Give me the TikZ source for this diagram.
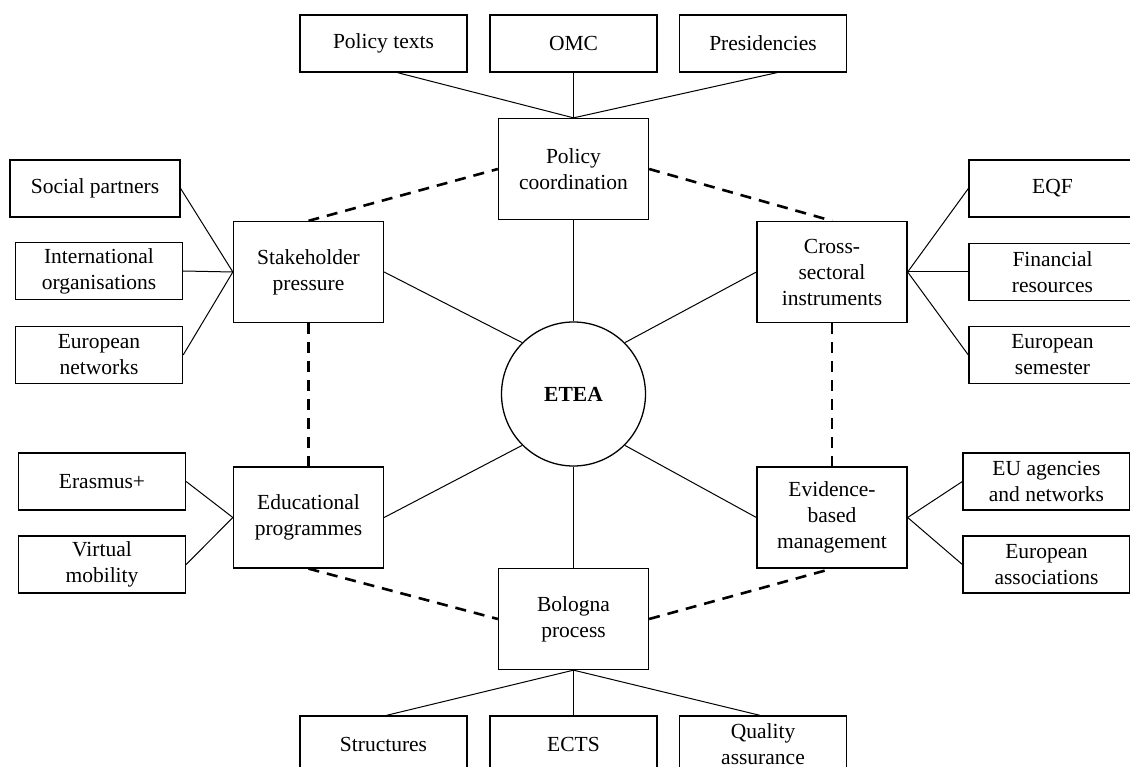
\documentclass[tikz,border=0pt]{standalone}
\usepackage{fontspec}
\setmainfont{Liberation Serif}
\usetikzlibrary{calc}
\begin{document}
\begin{tikzpicture}[x=1pt,y=-1pt,
  box/.style={draw, line width=1.3pt, inner sep=0pt, align=center,
    font=\fontsize{21.5}{26}\selectfont},
  leaf/.style={box, minimum width=167pt, minimum height=57pt},
  hub/.style={box, minimum width=150pt, minimum height=101pt},
  link/.style={line width=1pt},
  dashlink/.style={line width=2.6pt, dash pattern=on 11pt off 8pt}]
\fill[white] (0,0) rectangle (1130,767);
\clip (0,0) rectangle (1130,767);

% centre
\node[draw, line width=1.3pt, circle, minimum size=144pt, inner sep=0pt,
  font=\fontsize{21.5}{26}\selectfont\bfseries] (etea) at (573.5,394) {ETEA};

% six hubs
\node[hub] (pc)  at (573.5,169)  {Policy\\coordination};
\node[hub] (sp)  at (308.5,272)  {Stakeholder\\pressure};
\node[hub] (csi) at (832,272)    {Cross-\\sectoral\\instruments};
\node[hub] (ep)  at (308.5,517.5) {Educational\\programmes};
\node[hub] (ebm) at (832,517.5)  {Evidence-\\based\\management};
\node[hub] (bp)  at (573.5,619)  {Bologna\\process};

% top row
\node[leaf] (ptx) at (383.5,43.5) {Policy texts};
\node[leaf] (omc) at (573.5,43.5) {OMC};
\node[leaf] (pre) at (763,43.5)   {Presidencies};

% bottom row
\node[leaf] (str) at (383.5,744.5) {Structures};
\node[leaf] (ects) at (573.5,744.5) {ECTS};
\node[leaf] (qa)  at (763,744.5)   {Quality\\assurance};

% left column
\node[leaf, minimum width=170pt] (soc) at (95,188.5) {Social partners};
\node[leaf] (intl) at (99,271)   {International\\organisations};
\node[leaf] (enet) at (99,355)   {European\\networks};
\node[leaf] (eras) at (102,481.5) {Erasmus+};
\node[leaf] (vm)   at (102,564.5) {Virtual\\mobility};

% right column
\node[leaf] (eqf) at (1052.5,188.5) {EQF};
\node[leaf] (fin) at (1052.5,272)   {Financial\\resources};
\node[leaf] (sem) at (1052.5,355)   {European\\semester};
\node[leaf] (eua) at (1046.5,481.5) {EU agencies\\and networks};
\node[leaf] (eas) at (1046.5,564.5) {European\\associations};

% hubs to the centre
\draw[link] (pc.south) -- (etea.north);
\draw[link] (bp.north) -- (etea.south);
\draw[link] (sp.east) -- (etea.135);
\draw[link] (csi.west) -- (etea.45);
\draw[link] (ep.east) -- (etea.225);
\draw[link] (ebm.west) -- (etea.315);

% dashed ring between hubs
\draw[dashlink] (sp.north) -- (pc.west);
\draw[dashlink] (pc.east) -- (csi.north);
\draw[dashlink] (sp.south) -- (ep.north);
\draw[dashlink] (csi.south) -- (ebm.north);
\draw[dashlink] (ep.south) -- (bp.west);
\draw[dashlink] (bp.east) -- (ebm.south);

% leaves
\draw[link] ($(ptx.south)+(14,0)$) -- (pc.north);
\draw[link] (omc.south) -- (pc.north);
\draw[link] ($(pre.south)+(14,0)$) -- (pc.north);
\draw[link] ($(str.north)+(3,0)$) -- (bp.south);
\draw[link] (ects.north) -- (bp.south);
\draw[link] ($(qa.north)+(-3,0)$) -- (bp.south);
\draw[link] (soc.east) -- (sp.west);
\draw[link] (intl.east) -- (sp.west);
\draw[link] (enet.east) -- (sp.west);
\draw[link] (eras.east) -- (ep.west);
\draw[link] (vm.east) -- (ep.west);
\draw[link] (eqf.west) -- (csi.east);
\draw[link] (fin.west) -- (csi.east);
\draw[link] (sem.west) -- (csi.east);
\draw[link] (eua.west) -- (ebm.east);
\draw[link] (eas.west) -- (ebm.east);
\end{tikzpicture}
\end{document}
